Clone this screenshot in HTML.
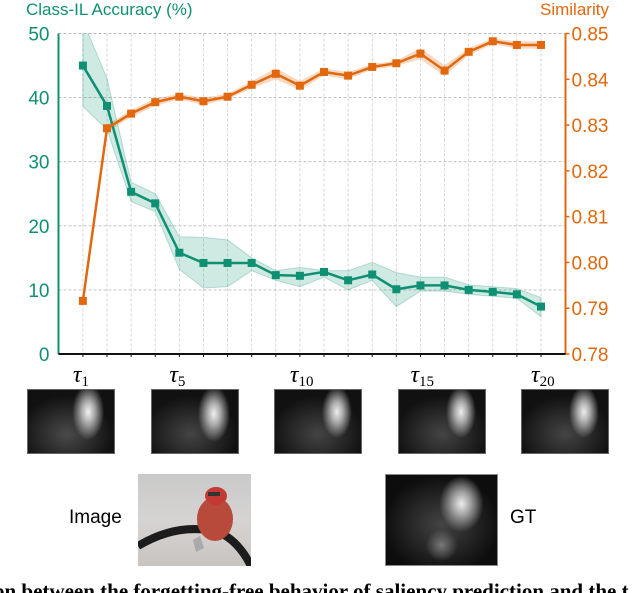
<!DOCTYPE html>
<html><head><meta charset="utf-8"><style>
html,body{margin:0;padding:0;background:#fff;width:640px;height:593px;overflow:hidden;position:relative;font-family:"Liberation Sans",sans-serif}
.abs{position:absolute}
.sal{position:absolute;width:88px;height:65px;background:#0a0a0a;overflow:hidden;border:1px solid #666;box-sizing:border-box}
</style></head><body>
<svg id="chart" class="abs" style="left:0;top:0" width="640" height="393" xmlns="http://www.w3.org/2000/svg"></svg>

<div class="sal" style="left:27px;top:389px;background:radial-gradient(ellipse 16px 28px at 70% 35%,#f4f4f4,#aaa 40%,rgba(60,60,60,0) 100%),radial-gradient(ellipse 55px 45px at 45% 70%,#4a4a4a,#111 85%)"></div>
<div class="sal" style="left:151px;top:389px;background:radial-gradient(ellipse 16px 28px at 72% 38%,#f0f0f0,#aaa 40%,rgba(60,60,60,0) 100%),radial-gradient(ellipse 55px 45px at 45% 70%,#444,#111 85%)"></div>
<div class="sal" style="left:274px;top:389px;background:radial-gradient(ellipse 15px 26px at 72% 35%,#eee,#aaa 40%,rgba(60,60,60,0) 100%),radial-gradient(ellipse 55px 45px at 50% 70%,#444,#111 85%)"></div>
<div class="sal" style="left:398px;top:389px;background:radial-gradient(ellipse 15px 26px at 72% 35%,#eee,#aaa 40%,rgba(60,60,60,0) 100%),radial-gradient(ellipse 55px 45px at 50% 70%,#444,#111 85%)"></div>
<div class="sal" style="left:521px;top:389px;background:radial-gradient(ellipse 15px 26px at 72% 35%,#eee,#aaa 40%,rgba(60,60,60,0) 100%),radial-gradient(ellipse 55px 45px at 50% 70%,#444,#111 85%)"></div>

<div class="abs" style="left:69px;top:507px;font-size:19px;color:#000">Image</div>
<div class="abs" style="left:138px;top:474px;width:113px;height:92px;overflow:hidden;background:linear-gradient(180deg,#c9c9c9,#d6d4d2 50%,#c8c4c0)">
  <svg width="113" height="92" xmlns="http://www.w3.org/2000/svg">
    <path d="M0 72 Q40 48 80 58 Q100 66 113 92" stroke="#1c1c1c" stroke-width="8" fill="none"/>
    <ellipse cx="77" cy="45" rx="18" ry="22" fill="#b84a3c"/>
    <ellipse cx="78" cy="22" rx="11" ry="9" fill="#c33a35"/>
    <rect x="70" y="18" width="12" height="4" fill="#333"/>
    <path d="M55 66 L62 62 L66 74 L58 78Z" fill="#aaa"/>
  </svg>
</div>
<div class="abs" style="left:385px;top:474px;width:113px;height:92px;border:1px solid #888;box-sizing:border-box;background:radial-gradient(ellipse 22px 28px at 68% 32%,#eee,#999 45%,rgba(60,60,60,0) 100%),radial-gradient(ellipse 16px 16px at 50% 78%,#777,rgba(40,40,40,0) 100%),radial-gradient(ellipse 65px 55px at 50% 55%,#444,#0d0d0d 90%)"></div>
<div class="abs" style="left:510px;top:507px;font-size:19px;color:#000">GT</div>
<div class="abs" style="left:-6px;top:579px;font-family:'Liberation Serif',serif;font-weight:bold;font-size:21px;white-space:nowrap;color:#000">on between the forgetting-free behavior of saliency prediction and the t</div>

<script>
const categories=["τ1","τ2","τ3","τ4","τ5","τ6","τ7","τ8","τ9","τ10","τ11","τ12","τ13","τ14","τ15","τ16","τ17","τ18","τ19","τ20"];
const accuracy=[45,38.7,25.3,23.5,15.8,14.2,14.2,14.2,12.3,12.2,12.8,11.5,12.4,10.1,10.7,10.7,10.0,9.7,9.3,7.4];
const accuracyUpper=[52,43,26.8,25,18.3,18.2,17.8,15,13,13.5,13,13,14.3,12.7,12,12,10.8,10.5,10.2,8.8];
const accuracyLower=[38.6,35,23.8,22.2,13.2,10.3,10.5,13,11.5,10.5,12,10,11.5,7.4,9.8,9.8,9.3,9,8.7,5.8];
const similarity=[0.7916,0.8293,0.8325,0.8350,0.8362,0.8352,0.8362,0.8388,0.8412,0.8386,0.8416,0.8408,0.8427,0.8435,0.8456,0.8419,0.8460,0.8483,0.8475,0.8475];
const similarityErr=[0.0008,0.0008,0.0008,0.0008,0.0006,0.0008,0.0006,0.0008,0.0012,0.0010,0.0008,0.0008,0.0006,0.0006,0.0012,0.0012,0.0008,0.0006,0.0008,0.0008];
const leftTicks=[0,10,20,30,40,50];
const rightTicks=[0.78,0.79,0.80,0.81,0.82,0.83,0.84,0.85];
const xLabelIdx=[0,4,9,14,19];
const xLabelSubs=["1","5","10","15","20"];

const NS="http://www.w3.org/2000/svg";
const svg=document.getElementById('chart');
const X0=58.5,X1=565.5,Y0=354,Y1=33.5;
const xS=i=>82.9+i*(541-82.9)/19;
const yL=v=>Y0-(v/50)*(Y0-Y1);
const yR=v=>Y0-((v-0.78)/0.07)*(Y0-Y1);
function mk(tag,attrs){const e=document.createElementNS(NS,tag);for(const k in attrs)e.setAttribute(k,attrs[k]);svg.appendChild(e);return e;}
const G='#0f9073',O='#e1680e';

const defs=mk('defs',{});
const cp=document.createElementNS(NS,'clipPath');cp.setAttribute('id','pc');
const cr=document.createElementNS(NS,'rect');cr.setAttribute('x',X0);cr.setAttribute('y',Y1);cr.setAttribute('width',X1-X0);cr.setAttribute('height',Y0-Y1);
cp.appendChild(cr);defs.appendChild(cp);

categories.forEach((c,i)=>{
  const l=mk('line',{x1:xS(i),x2:xS(i),y1:Y1,y2:Y0,stroke:'#ccc','stroke-width':0.8,'stroke-dasharray':'3,2'});
  
  
});
leftTicks.forEach(v=>{
  if(v>0){const l=mk('line',{x1:X0,x2:X1,y1:yL(v),y2:yL(v),stroke:'#bbb','stroke-width':0.9,'stroke-dasharray':'3,2'});
  
  }
  const t=mk('text',{x:X0-9,y:yL(v)+7,'text-anchor':'end','font-size':19,fill:G,'font-family':'Liberation Sans, sans-serif'});
  t.textContent=v;
  
  
});
rightTicks.forEach(v=>{
  const t=mk('text',{x:X1+6,y:yR(v)+7,'font-size':19,fill:O,'font-family':'Liberation Sans, sans-serif'});
  t.textContent=v.toFixed(2);
  
  
  mk('line',{x1:X1,x2:X1+4,y1:yR(v),y2:yR(v),stroke:O,'stroke-width':1.5});
});

let d='M'+categories.map((c,i)=>xS(i)+','+yL(accuracyUpper[i])).join('L');
for(let i=categories.length-1;i>=0;i--)d+='L'+xS(i)+','+yL(accuracyLower[i]);
const ab=mk('path',{d:d+'Z',fill:G,'fill-opacity':0.2,stroke:G,'stroke-opacity':0.25,'clip-path':'url(#pc)'});


d='M'+categories.map((c,i)=>xS(i)+','+yR(similarity[i]+similarityErr[i])).join('L');
for(let i=categories.length-1;i>=0;i--)d+='L'+xS(i)+','+yR(similarity[i]-similarityErr[i]);
const sb=mk('path',{d:d+'Z',fill:O,'fill-opacity':0.25,stroke:'none'});



const al=mk('polyline',{points:accuracy.map((v,i)=>xS(i)+','+yL(v)).join(' '),fill:'none',stroke:G,'stroke-width':2.5});


const sl=mk('polyline',{points:similarity.map((v,i)=>xS(i)+','+yR(v)).join(' '),fill:'none',stroke:O,'stroke-width':2.5});


accuracy.forEach((v,i)=>{
  const m=mk('rect',{x:xS(i)-4,y:yL(v)-4,width:8,height:8,fill:G});
  
  
});
similarity.forEach((v,i)=>{
  const m=mk('rect',{x:xS(i)-4,y:yR(v)-4,width:8,height:8,fill:O});
  
  
});

mk('line',{x1:X0,x2:X0,y1:Y1,y2:Y0,stroke:G,'stroke-width':2});
mk('line',{x1:X1,x2:X1,y1:Y1,y2:Y0,stroke:O,'stroke-width':2});
mk('line',{x1:X0,x2:X1,y1:Y0,y2:Y0,stroke:'#111','stroke-width':2});
categories.forEach((c,i)=>mk('line',{x1:xS(i),x2:xS(i),y1:Y0,y2:Y0+3,stroke:'#111','stroke-width':1}));
xLabelIdx.forEach((idx,k)=>{
  const t=mk('text',{x:xS(idx)-10,y:382,'font-size':24,'font-style':'italic','font-family':'Liberation Serif, serif',fill:'#000'});
  t.textContent='τ';
  
  
  const s=document.createElementNS(NS,'tspan');s.setAttribute('font-size',15);s.setAttribute('font-style','normal');s.setAttribute('dy',4);s.textContent=xLabelSubs[k];t.appendChild(s);
});
const lt=mk('text',{x:26,y:15,'font-size':17,fill:G,'font-family':'Liberation Sans, sans-serif'});
lt.textContent='Class-IL Accuracy (%)';


const rt=mk('text',{x:540,y:15,'font-size':17,fill:O,'font-family':'Liberation Sans, sans-serif'});
rt.textContent='Similarity';


</script>
</body></html>
